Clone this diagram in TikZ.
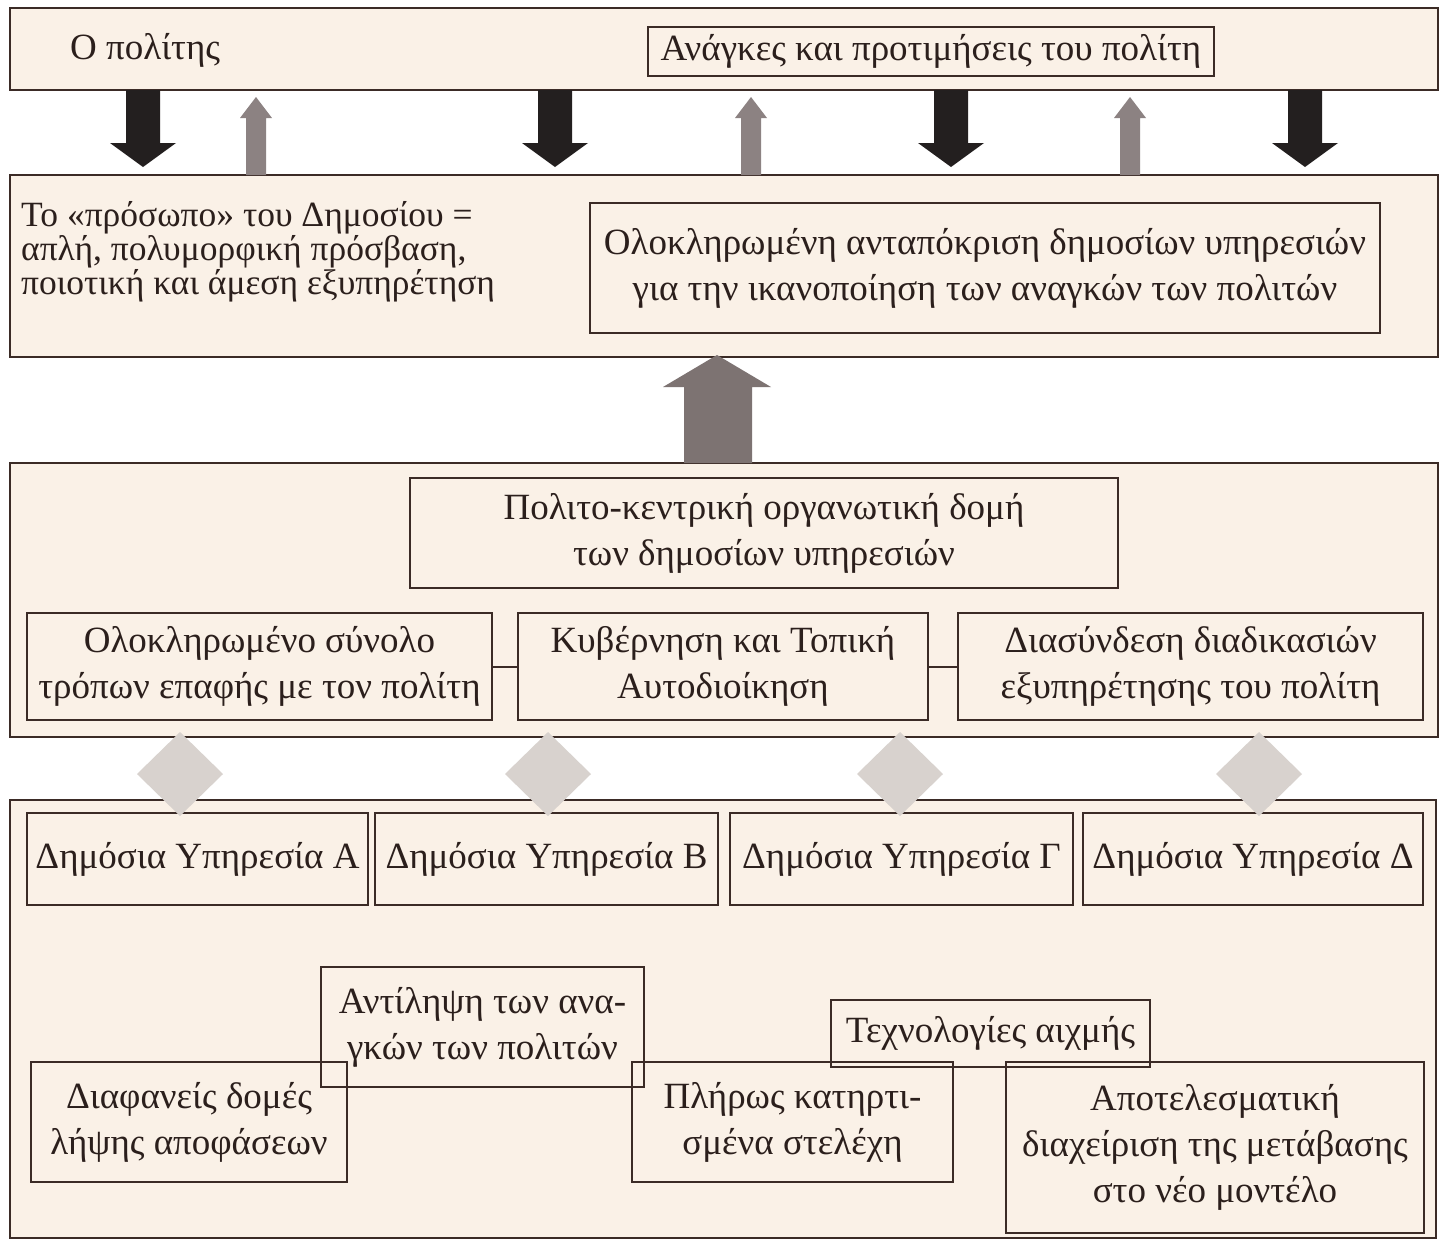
\documentclass[tikz,border=0pt]{standalone}
\usepackage{fontspec}
\setmainfont{Liberation Serif}
\definecolor{lineC}{HTML}{3B2B26}
\definecolor{bandC}{HTML}{FAF1E7}
\definecolor{textC}{HTML}{2B1F1C}
\definecolor{darkArr}{HTML}{231F1F}
\definecolor{grayArr}{HTML}{8C8282}
\definecolor{bigArr}{HTML}{7D7372}
\definecolor{diamC}{HTML}{D8D2CE}
\tikzset{
  band/.style={draw=lineC, line width=1.6pt, fill=bandC, inner sep=0pt},
  tbox/.style={draw=lineC, line width=1.6pt, inner sep=0pt, align=center, text=textC,
    font=\fontsize{37}{46}\selectfont},
  txt/.style={inner sep=0pt, text=textC, font=\fontsize{37}{46}\selectfont},
  conn/.style={draw=lineC, line width=2pt},
  downarr/.pic={\fill[darkArr] (-17,0) -- (-17,53) -- (-33,53) -- (0,77) -- (33,53) -- (17,53) -- (17,0) -- cycle;},
  uparr/.pic={\fill[grayArr] (-10,0) -- (-10,-57) -- (-16,-57) -- (0,-78) -- (16,-57) -- (10,-57) -- (10,0) -- cycle;},
  diam/.pic={\fill[diamC] (-43,0) -- (0,-42) -- (43,0) -- (0,42) -- cycle;}
}
\newcommand\mkband[5]{\node[band, minimum width={((#4)-(#2))*1pt}, minimum height={((#5)-(#3))*1pt}] (#1) at ({((#2)+(#4))/2},{((#3)+(#5))/2}) {};}
\newcommand\mkbox[7][]{\node[tbox, minimum width={((#5)-(#3))*1pt}, minimum height={((#6)-(#4))*1pt}, #1] (#2) at ({((#3)+(#5))/2},{((#4)+(#6))/2}) {#7};}
\begin{document}
\begin{tikzpicture}[x=1pt,y=-1pt]
\useasboundingbox[fill=white] (0,0) rectangle (1442,1243);
% bands
\mkband{band1}{10}{8}{1438}{90}
\mkband{band2}{10}{175}{1438}{357}
\mkband{band3}{10}{463}{1438}{737}
\mkband{band4}{10}{800}{1436}{1238}
% band 1
\node[txt, anchor=west] (citizen) at (70,50) {Ο πολίτης};
\mkbox{needs}{648}{27}{1214}{76}{Ανάγκες και προτιμήσεις του πολίτη}
% arrows between band 1 and band 2
\pic at (143,90) {downarr};
\pic at (555,90) {downarr};
\pic at (951,90) {downarr};
\pic at (1305,90) {downarr};
\pic at (256,175) {uparr};
\pic at (751,175) {uparr};
\pic at (1130,175) {uparr};
% band 2
\node[txt, anchor=west, align=left, font=\fontsize{35.5}{34}\selectfont] (face) at (21,252)
  {Το «πρόσωπο» του Δημοσίου =\\απλή, πολυμορφική πρόσβαση,\\ποιοτική και άμεση εξυπηρέτηση};
\mkbox{resp}{590}{203}{1380}{333}{Ολοκληρωμένη ανταπόκριση δημοσίων υπηρεσιών\\για την ικανοποίηση των αναγκών των πολιτών}
% big arrow
\fill[bigArr] (684,463) -- (684,387) -- (663,387) -- (717,355) -- (771,387) -- (752,387) -- (752,463) -- cycle;
% band 3
\mkbox{struct}{410}{478}{1118}{588}{Πολιτο-κεντρική οργανωτική δομή\\των δημοσίων υπηρεσιών}
\mkbox{r1}{27}{613}{492}{720}{Ολοκληρωμένο σύνολο\\τρόπων επαφής με τον πολίτη}
\mkbox{r2}{518}{613}{928}{720}{Κυβέρνηση και Τοπική\\Αυτοδιοίκηση}
\mkbox{r3}{958}{613}{1423}{720}{Διασύνδεση διαδικασιών\\εξυπηρέτησης του πολίτη}
\draw[conn] (r1.east) -- (r2.west);
\draw[conn] (r2.east) -- (r3.west);
% band 4
\mkbox{sA}{27}{813}{368}{905}{Δημόσια Υπηρεσία Α}
\mkbox{sB}{375}{813}{718}{905}{Δημόσια Υπηρεσία Β}
\mkbox{sG}{730}{813}{1073}{905}{Δημόσια Υπηρεσία Γ}
\mkbox{sD}{1083}{813}{1423}{905}{Δημόσια Υπηρεσία Δ}
% diamonds
\pic at (180,774) {diam};
\pic at (548,774) {diam};
\pic at (900,774) {diam};
\pic at (1259,774) {diam};
% lower boxes
\mkbox{percep}{321}{967}{644}{1087}{Αντίληψη των ανα-\\γκών των πολιτών}
\mkbox{transp}{31}{1062}{347}{1182}{Διαφανείς δομές\\λήψης αποφάσεων}
\mkbox{tech}{831}{1000}{1150}{1067}{Τεχνολογίες αιχμής}
\mkbox{staff}{632}{1062}{953}{1182}{Πλήρως κατηρτι-\\σμένα στελέχη}
\mkbox{manage}{1006}{1062}{1424}{1233}{Αποτελεσματική\\διαχείριση της μετάβασης\\στο νέο μοντέλο}
\end{tikzpicture}
\end{document}
